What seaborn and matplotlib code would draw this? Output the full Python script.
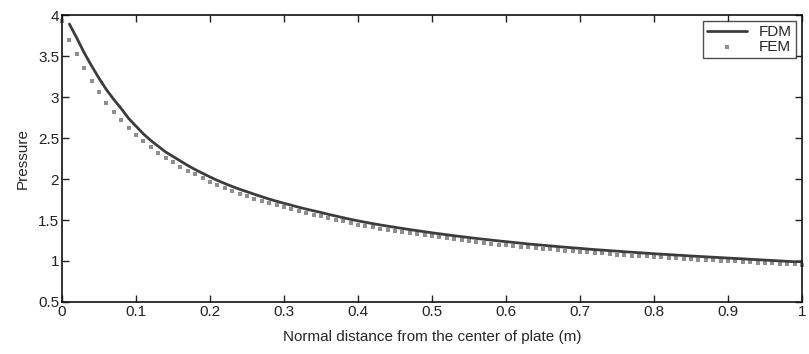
import numpy as np
import pandas as pd
import matplotlib
matplotlib.use("Agg")
import matplotlib.pyplot as plt
import seaborn as sns
from matplotlib.ticker import FormatStrFormatter, MultipleLocator

# FEM nodes every 0.01 m from 0 to 1
fem_x = np.linspace(0.0, 1.0, 101)
fem_p = [
    3.93, 3.70, 3.52, 3.35, 3.20, 3.06, 2.93, 2.82, 2.72, 2.62,
    2.54, 2.46, 2.39, 2.32, 2.26, 2.205, 2.15, 2.10, 2.055, 2.01,
    1.965, 1.925, 1.888, 1.854, 1.821, 1.792, 1.762, 1.733, 1.705, 1.679,
    1.655, 1.631, 1.607, 1.585, 1.565, 1.545, 1.522, 1.502, 1.482, 1.462,
    1.444, 1.427, 1.411, 1.396, 1.381, 1.367, 1.353, 1.339, 1.326, 1.313,
    1.300, 1.288, 1.276, 1.264, 1.253, 1.242, 1.231, 1.221, 1.211, 1.201,
    1.192, 1.183, 1.174, 1.165, 1.157, 1.149, 1.141, 1.133, 1.126, 1.119,
    1.112, 1.105, 1.098, 1.092, 1.085, 1.079, 1.073, 1.067, 1.061, 1.055,
    1.050, 1.044, 1.039, 1.034, 1.029, 1.023, 1.018, 1.013, 1.009, 1.004,
    0.999, 0.995, 0.990, 0.986, 0.981, 0.977, 0.973, 0.968, 0.964, 0.960,
    0.956,
]

# FDM grid starts one step off the centre
fdm_x = np.linspace(0.01, 1.0, 100)
fdm_p = [
    3.89, 3.72, 3.54, 3.38, 3.23, 3.09, 2.97, 2.86, 2.74, 2.645,
    2.55, 2.47, 2.40, 2.33, 2.275, 2.22, 2.165, 2.115, 2.07, 2.025,
    1.983, 1.945, 1.909, 1.875, 1.845, 1.814, 1.784, 1.755, 1.729, 1.704,
    1.680, 1.656, 1.633, 1.612, 1.592, 1.569, 1.549, 1.528, 1.508, 1.490,
    1.472, 1.456, 1.440, 1.425, 1.411, 1.397, 1.383, 1.370, 1.357, 1.344,
    1.332, 1.320, 1.308, 1.297, 1.286, 1.275, 1.265, 1.255, 1.245, 1.236,
    1.227, 1.217, 1.208, 1.200, 1.192, 1.184, 1.176, 1.168, 1.161, 1.154,
    1.146, 1.139, 1.133, 1.126, 1.120, 1.113, 1.107, 1.101, 1.095, 1.089,
    1.083, 1.078, 1.072, 1.067, 1.061, 1.056, 1.051, 1.046, 1.041, 1.036,
    1.031, 1.026, 1.021, 1.016, 1.011, 1.006, 1.001, 0.996, 0.991, 0.993,
]

fdm = pd.DataFrame({"x": fdm_x, "p": fdm_p})
fem = pd.DataFrame({"x": fem_x, "p": fem_p})

sns.set_style("ticks")
plt.rcParams["font.family"] = ["Liberation Sans", "DejaVu Sans"]
plt.rcParams["xtick.direction"] = "in"
plt.rcParams["ytick.direction"] = "in"

fig = plt.figure(figsize=(8.09, 3.54), dpi=100)
ax = fig.add_axes([0.0766, 0.1469, 0.9147, 0.8107])

sns.lineplot(data=fdm, x="x", y="p", ax=ax, color="#3c3c3c", linewidth=2.0, label="FDM")
sns.scatterplot(data=fem, x="x", y="p", ax=ax, color="#8f8f8f", marker="s", s=12,
                linewidth=0, label="FEM", zorder=1, clip_on=False)

ax.set_xlim(0, 1)
ax.set_ylim(0.5, 4)
ax.xaxis.set_major_locator(MultipleLocator(0.1))
ax.yaxis.set_major_locator(MultipleLocator(0.5))
ax.xaxis.set_major_formatter(FormatStrFormatter("%g"))
ax.yaxis.set_major_formatter(FormatStrFormatter("%g"))
ax.tick_params(axis="both", which="major", length=5, width=1, labelsize=11,
               top=True, right=True, pad=2, colors="#222222")
for s in ax.spines.values():
    s.set_visible(True)
    s.set_linewidth(1.2)
    s.set_color("#111111")

ax.set_xlabel("Normal distance from the center of plate (m)", fontsize=11, labelpad=8)
ax.set_ylabel("Pressure", fontsize=11, labelpad=6)

leg = ax.legend(loc="upper right", fontsize=11, frameon=True, fancybox=False,
                edgecolor="#222222", scatterpoints=1, borderaxespad=0.4,
                handlelength=2.6, borderpad=0.25, labelspacing=0.05)
leg.get_frame().set_linewidth(1.0)

fig.savefig("out.png", dpi=100)
